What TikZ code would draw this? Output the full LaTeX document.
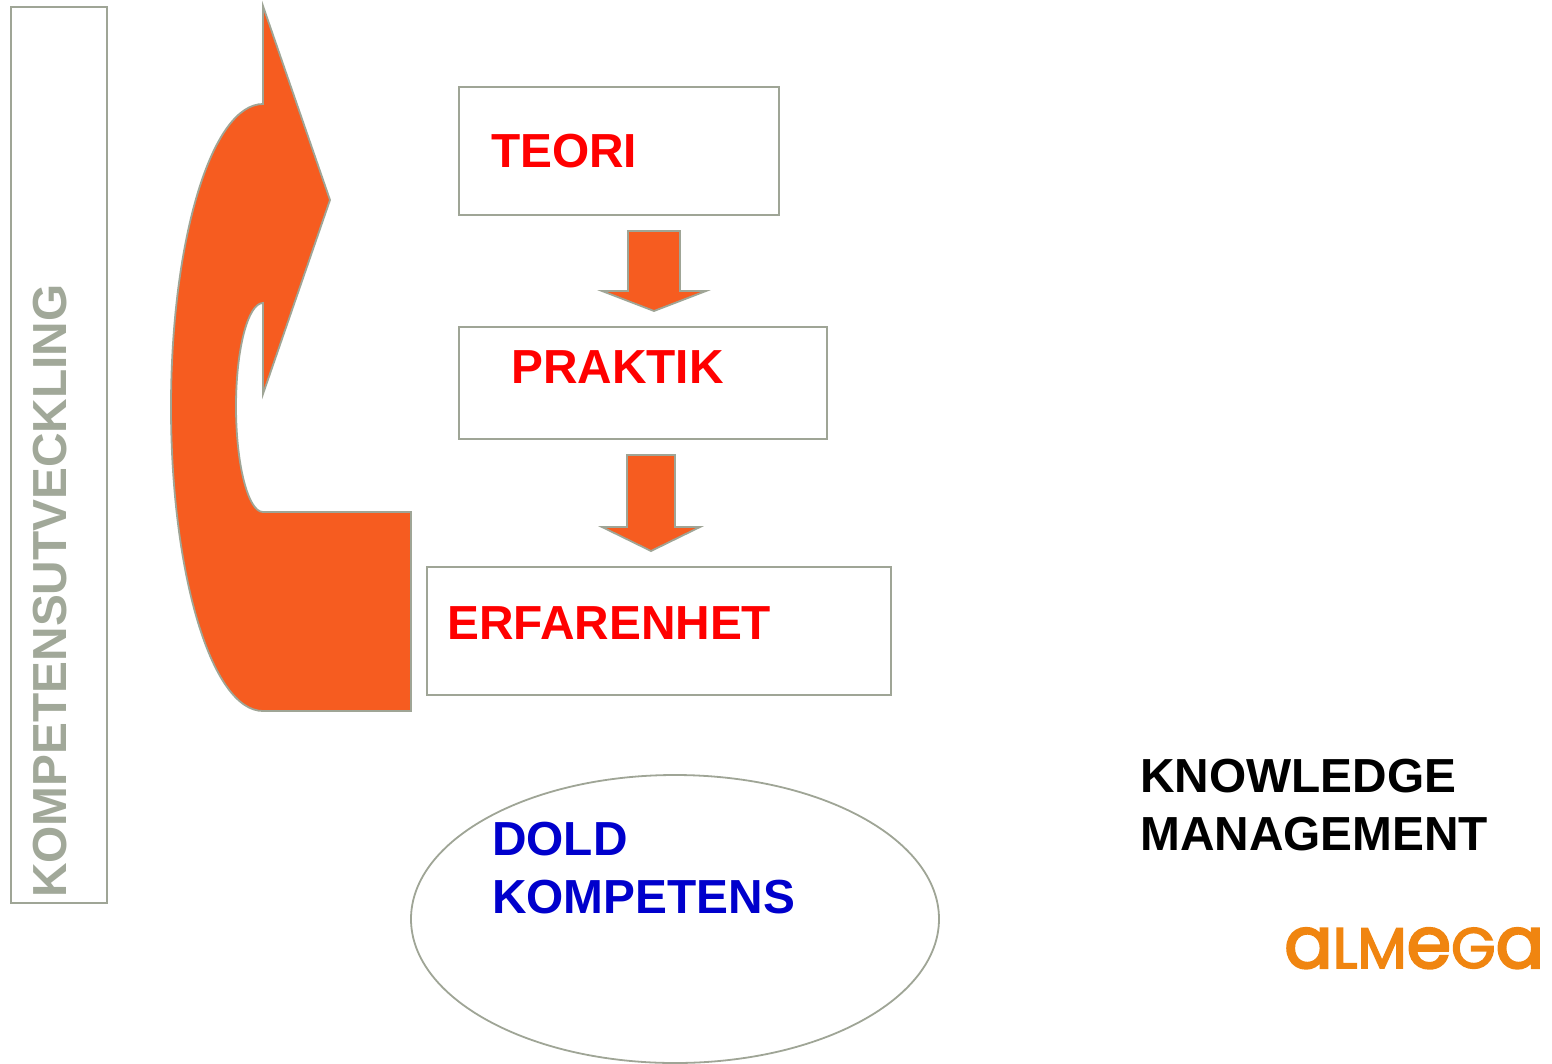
\documentclass[tikz,border=0pt]{standalone}
\usepackage{fontspec}
\usetikzlibrary{shapes.geometric}
\setmainfont{Liberation Sans}
\newfontfamily\logofont[FakeBold=3]{Poppins}
\definecolor{edgegray}{HTML}{9FA596}
\definecolor{kgray}{HTML}{A1A899}
\definecolor{blockorange}{HTML}{F65C20}
\definecolor{logoorange}{HTML}{F08510}
\definecolor{doldblue}{HTML}{0000CC}
\newcommand{\logosmall}[1]{{\fontsize{57}{60}\selectfont #1}}
\newcommand{\logobig}[1]{{\fontsize{72}{60}\selectfont #1}}
\tikzset{
  outline/.style={draw=edgegray,line width=1.8pt,fill=white},
  blockshape/.style={draw=edgegray,line width=1.8pt,fill=blockorange,line join=miter},
  bigtext/.style={font=\bfseries\fontsize{47.8}{57.5}\selectfont,inner sep=0pt,align=left},
  redtext/.style={bigtext,text=red,anchor=base west}
}
\begin{document}
\begin{tikzpicture}[x=1pt,y=-1pt]
\useasboundingbox (0,0) rectangle (1552,1063);
% side box
\node[outline,minimum width=96pt,minimum height=896pt,inner sep=0pt] (sidebox) at (59,455) {};
\node[bigtext,text=kgray,rotate=90,anchor=base west] (sidelabel) at (66.5,898) {KOMPETENSUTVECKLING};
% curved arrow
\draw[blockshape] (263,6) -- (330,200) -- (263,394) -- (263,303)
  .. controls (248,303) and (236,349) .. (236,406.5)
  .. controls (236,464) and (248,512) .. (263,512)
  -- (411,512) -- (411,711) -- (263,711)
  .. controls (212,711) and (171,575) .. (171,407)
  .. controls (171,239) and (212,104) .. (263,104) -- cycle;
% boxes
\node[outline,minimum width=320pt,minimum height=128pt,inner sep=0pt] (teoribox) at (619,151) {};
\node[outline,minimum width=368pt,minimum height=112pt,inner sep=0pt] (praktikbox) at (643,383) {};
\node[outline,minimum width=464pt,minimum height=128pt,inner sep=0pt] (erfbox) at (659,631) {};
\node[redtext] (teori) at (491,167) {TEORI};
\node[redtext] (praktik) at (511,383) {PRAKTIK};
\node[redtext] (erf) at (447,639) {ERFARENHET};
% block arrows
\draw[blockshape] (628,231) -- (680,231) -- (680,291) -- (706,291) -- (654,311) -- (602,291) -- (628,291) -- cycle;
\draw[blockshape] (627,455) -- (675,455) -- (675,527) -- (700,527) -- (651,551) -- (602,527) -- (627,527) -- cycle;
% ellipse
\node[outline,ellipse,minimum width=528pt,minimum height=288pt,inner sep=0pt] (ellipsenode) at (675,919) {};
\node[bigtext,text=doldblue,anchor=north west] (dold) at (492,822) {DOLD\\KOMPETENS};
\node[bigtext,text=black,anchor=north west] (km) at (1140,759) {KNOWLEDGE\\MANAGEMENT};
% logo
\node[text=logoorange,inner sep=0pt,anchor=base west] (logo) at (1284,968) {\logofont\logobig{a}\logosmall{LM}\logobig{e}\logosmall{G}\logobig{a}};
\end{tikzpicture}
\end{document}
